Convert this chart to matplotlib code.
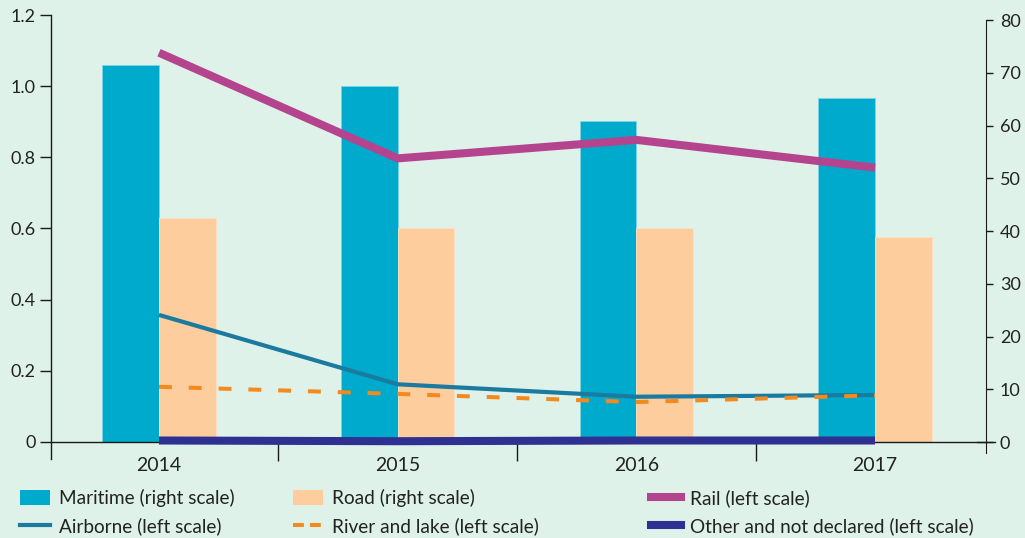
import numpy as np
import matplotlib
matplotlib.use("Agg")
import matplotlib.pyplot as plt
import matplotlib.transforms as mtransforms
from matplotlib.patches import Patch
from matplotlib.lines import Line2D

plt.rcParams['font.family'] = ['Lato', 'DejaVu Sans']

# data
years = ['2014', '2015', '2016', '2017']
maritime = [71.4, 67.4, 60.8, 65.2]      # right scale
road = [42.5, 40.6, 40.6, 38.9]          # right scale
rail = [1.094, 0.797, 0.849, 0.771]      # left scale
airborne = [0.357, 0.162, 0.127, 0.132]  # left scale
river_lake = [0.155, 0.135, 0.112, 0.131]
other = [0.004, 0.002, 0.004, 0.004]

bg = '#dff2ea'
c_maritime = '#00aacc'
c_road = '#fdcd9e'
c_rail = '#b5448f'
c_air = '#1a7aa0'
c_river = '#f28a1e'
c_other = '#2e3192'
c_axis = '#1a1a1a'
c_text = '#222222'

W, H = 1025, 538
fig = plt.figure(figsize=(W / 100, H / 100), dpi=100, facecolor=bg)
ax = fig.add_axes([51 / W, 1 - 459 / H, 935 / W, 444 / H])
ax2 = ax.twinx()

# lines on top of the bars
ax.set_zorder(ax2.get_zorder() + 1)
ax.patch.set_visible(False)
ax2.patch.set_facecolor(bg)

x = np.arange(len(years))
bw = 0.237

ax2.bar(x - bw / 2, maritime, bw, color=c_maritime, edgecolor='#7fd3e3', linewidth=0.6)
ax2.bar(x + bw / 2, road, bw, color=c_road, edgecolor='#fde0c2', linewidth=0.6)

ax.plot(x, rail, color=c_rail, lw=5.8, solid_capstyle='butt', zorder=3)
ax.plot(x, airborne, color=c_air, lw=3.0, solid_capstyle='butt', zorder=3)
ax.plot(x, river_lake, color=c_river, lw=2.9, dashes=(3.2, 4.2), zorder=3)
ax.plot(x, other, color=c_other, lw=5.8, solid_capstyle='butt', zorder=4)

ax.set_xlim(-0.4525, 3.465)
ax.set_ylim(-0.048, 1.2)
ax2.set_ylim(-3.22, 80.95)

# left axis
ax.spines['top'].set_visible(False)
ax.spines['right'].set_visible(False)
ax.spines['left'].set_color(c_axis)
ax.spines['bottom'].set_color(c_axis)
ax.spines['bottom'].set_position(('data', 0))
ax.spines['left'].set_linewidth(1.0)
ax.spines['bottom'].set_linewidth(1.0)
yt = [0, 0.2, 0.4, 0.6, 0.8, 1.0, 1.2]
ax.set_yticks(yt)
ax.set_yticklabels(['0' if v == 0 else f'{v:.1f}' for v in yt])
ax.tick_params(axis='y', length=8, width=1, color=c_axis, pad=3,
               labelsize=13, labelcolor=c_text)

# category labels at centres, separators between years
ax.set_xticks(x)
ax.set_xticklabels(years)
ax.set_xticks([0.5, 1.5, 2.5], minor=True)
ax.tick_params(axis='x', which='major', length=0, pad=11, labelsize=14, labelcolor=c_text)
ax.tick_params(axis='x', which='minor', length=14, width=1, color=c_axis)

# extend the zero line a bit past the right axis
blend = mtransforms.blended_transform_factory(ax.transAxes, ax.transData)
ax.plot([0.99, 1.0097], [0, 0], color=c_axis, lw=1.0, transform=blend,
        clip_on=False, zorder=2)

# right axis
for s in ['top', 'left', 'bottom']:
    ax2.spines[s].set_visible(False)
ax2.spines['right'].set_color(c_axis)
ax2.spines['right'].set_bounds(-2.09, 80)
ax2.set_yticks(np.arange(0, 81, 10))
ax2.tick_params(axis='y', length=5, width=1, color=c_axis, pad=5,
                labelsize=13, labelcolor=c_text)

# legend, three columns placed separately
leg_kw = dict(loc='upper left', frameon=False, fontsize=13.7, borderpad=0,
              borderaxespad=0, handlelength=1.6, handletextpad=0.45,
              handleheight=0.85, labelspacing=0.55, labelcolor=c_text)
col1 = [Patch(facecolor=c_maritime, edgecolor='none'),
        Line2D([], [], color=c_air, lw=3.0)]
col2 = [Patch(facecolor=c_road, edgecolor='none'),
        Line2D([], [], color=c_river, lw=2.9, dashes=(2.7, 1.5))]
col3 = [Line2D([], [], color=c_rail, lw=5.8),
        Line2D([], [], color=c_other, lw=5.8)]
top = 1 - 489 / H
fig.legend(col1, ['Maritime (right scale)', 'Airborne (left scale)'],
           bbox_to_anchor=(20 / W, top), **leg_kw)
fig.legend(col2, ['Road (right scale)', 'River and lake (left scale)'],
           bbox_to_anchor=(293 / W, top), **leg_kw)
fig.legend(col3, ['Rail (left scale)', 'Other and not declared (left scale)'],
           bbox_to_anchor=(651 / W, top), **leg_kw)

fig.savefig('out.png', dpi=100, facecolor=bg)
